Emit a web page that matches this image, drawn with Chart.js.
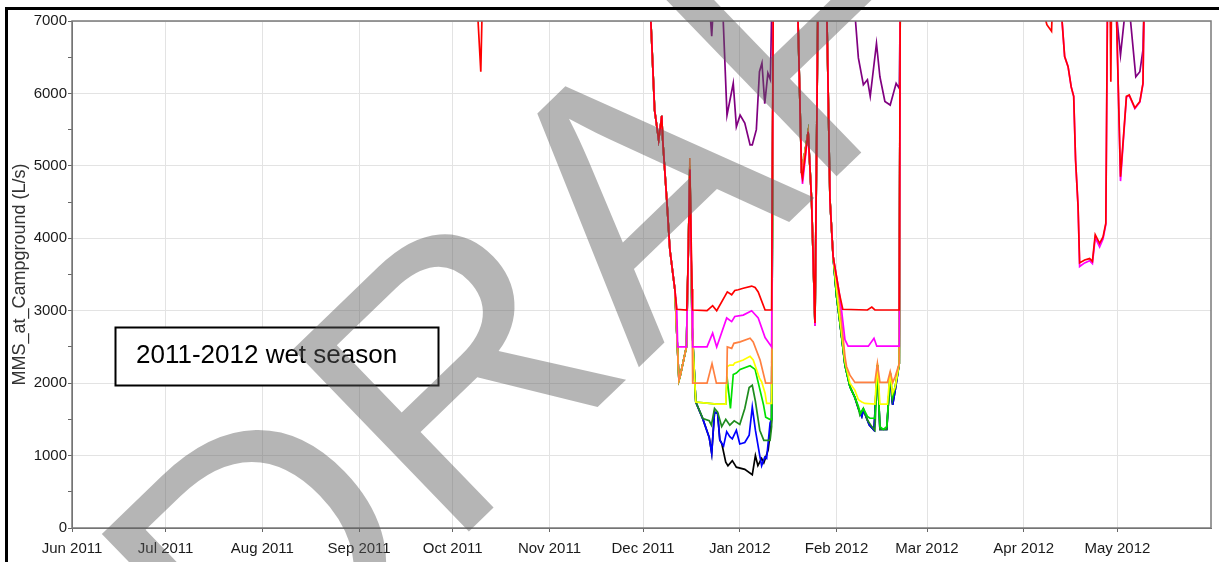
<!DOCTYPE html>
<html lang="en">
<head>
<meta charset="UTF-8">
<title>MMS_at_Campground - 2011-2012 wet season</title>
<script src="https://cdn.jsdelivr.net/npm/chart.js"></script>
<style>
    body {
        margin: 0;
        background: #fff;
        overflow: hidden;
    }
    .chart-box {
        position: relative;
        width: 1219px;
        height: 562px;
    }
</style>
</head>
<body>
<div class="chart-box"><canvas id="flowChart"></canvas></div>
<script>
// x values are days counted from 1 Jun 2011
const monthDays = [0, 30, 61, 92, 122, 153, 183, 214, 245, 274, 305, 335];
const monthLabels = ['Jun 2011', 'Jul 2011', 'Aug 2011', 'Sep 2011', 'Oct 2011', 'Nov 2011',
    'Dec 2011', 'Jan 2012', 'Feb 2012', 'Mar 2012', 'Apr 2012', 'May 2012'];

// flows in L/s (values above 7000 run off the top of the plot)
const redDays = [0, 130.0, 131.0, 131.4, 185.4, 186.7, 188.0, 189.0, 189.3, 190.6, 191.6, 193.2, 193.8,
    197.0, 197.4, 198.0, 198.7, 198.9, 203.5, 205.3, 206.6, 210.0, 211.4, 212.4, 213.5, 215.1, 217.8,
    218.9, 219.9, 222.1, 224.2, 224.7,
    232.6, 233.8, 234.1, 235.9, 237.0, 238.1, 239.0,
    241.9, 242.9, 243.9, 245.0, 245.9, 247.0, 254.9, 256.3, 257.3, 265.1, 265.4,
    311.8, 312.4, 313.9, 314.1, 317.1, 318.1, 319.2, 320.2, 321.0, 321.6, 322.4, 322.9, 324.5, 326.1,
    327.0, 327.9, 329.3, 330.4, 331.3, 331.8, 332.7, 332.9, 333.1, 334.7, 336.0, 337.9, 338.8, 340.6,
    342.2, 343.2, 343.5, 365];
const redFlow = [7500, 7100, 6300, 7100, 7100, 5770, 5360, 5690, 5360, 4530, 3840, 3290, 3020,
    3010, 3600, 4950, 3300, 3010, 3000, 3070, 3000, 3260, 3220, 3280, 3290, 3310, 3340,
    3320, 3260, 3010, 3010, 7100,
    7100, 4900, 4830, 5470, 4530, 2830, 7100,
    7100, 4530, 3750, 3470, 3240, 3020, 3010, 3050, 3010, 3010, 7100,
    7050, 6950, 6860, 7100, 7100, 6510, 6370, 6090, 5960, 5080, 4440, 3660, 3700, 3720,
    3680, 4050, 3930, 4020, 4210, 7100, 7100, 6160, 7100, 7100, 4850, 5960, 5980, 5800,
    5890, 6140, 7100, 7500];

const magentaDays = [185.4, 186.7, 188.0, 189.0, 189.3, 190.6, 191.6, 193.2, 193.8, 194.1, 196.9, 197.4,
    198.0, 198.7, 198.9, 203.5, 205.3, 206.6, 209.8, 211.4, 212.4, 215.1, 217.8, 219.9, 222.1, 224.2, 224.7,
    232.6, 233.8, 234.1, 235.9, 237.0, 238.1, 239.0,
    241.9, 242.9, 243.9, 245.0, 245.9, 246.6, 247.7, 248.7, 255.2, 257.0, 257.9, 265.1, 265.4,
    317.1, 318.1, 319.2, 320.2, 321.0, 321.6, 322.4, 322.9, 324.5, 326.1, 327.0, 327.9, 329.3, 330.4,
    331.3, 331.8, 334.7, 336.0, 337.9, 338.8, 340.6, 342.2, 343.2, 343.5];
const magentaFlow = [7100, 5770, 5360, 5690, 5360, 4530, 3840, 3290, 3020, 2500, 2500, 3600,
    4950, 3000, 2500, 2500, 2690, 2500, 2900, 2850, 2920, 2940, 3000, 2900, 2630, 2500, 7100,
    7100, 4900, 4750, 5470, 4530, 2790, 7100,
    7100, 4530, 3750, 3470, 3240, 3010, 2600, 2510, 2510, 2620, 2510, 2510, 7100,
    7100, 6510, 6370, 6090, 5960, 5080, 4440, 3610, 3660, 3690, 3650, 4010, 3880, 3990,
    4190, 7100, 7100, 4790, 5950, 5970, 5790, 5880, 6130, 7100];

const orangeDays = [185.4, 186.7, 188.0, 189.0, 189.3, 190.6, 191.6, 193.2, 193.8, 194.5, 194.9, 196.9,
    197.4, 198.0, 198.7, 198.9, 203.5, 205.1, 206.5, 209.8, 210.0, 211.4, 212.1, 214.1, 217.3, 218.3,
    220.5, 222.3, 224.2, 224.7,
    232.6, 233.8, 235.9, 237.0, 238.1, 239.0,
    241.9, 242.9, 243.9, 245.0, 245.9, 246.6, 247.7, 248.2, 249.3, 250.9, 257.3, 258.1, 258.9, 261.3,
    262.2, 263.0, 263.8, 265.1, 265.4];
const orangeFlow = [7100, 5770, 5360, 5690, 5360, 4530, 3840, 3290, 2700, 2040, 2100, 2500,
    3600, 5110, 3000, 2000, 2000, 2270, 2000, 2000, 2500, 2480, 2550, 2570, 2620, 2570,
    2320, 2000, 2000, 7100,
    7100, 4900, 5470, 4530, 2810, 7100,
    7100, 4530, 3750, 3440, 3150, 2850, 2370, 2230, 2110, 2010, 2010, 2270, 2010, 2010,
    2160, 2010, 2090, 2270, 7100];

const yellowDays = [185.4, 186.7, 188.0, 189.0, 189.3, 190.6, 191.6, 193.2, 193.8, 194.5, 194.9, 196.9,
    197.4, 198.0, 198.7, 199.9, 206.6, 209.5, 210.0, 210.8, 211.9, 212.4, 215.1, 217.3, 218.3, 220.3,
    221.0, 222.1, 222.6, 224.2, 224.7,
    232.6, 233.8, 235.9, 237.0, 238.1, 239.0,
    241.9, 242.9, 243.9, 245.0, 245.9, 246.6, 247.7, 249.3, 250.9, 252.0, 253.1, 254.1, 257.3, 258.1,
    258.9, 261.3, 262.2, 262.9, 263.8, 265.1, 265.4];
const yellowFlow = [7100, 5770, 5360, 5690, 5360, 4530, 3840, 3290, 2700, 2040, 2100, 2500,
    3600, 5000, 2800, 1740, 1710, 1710, 2230, 2250, 2250, 2280, 2320, 2370, 2320, 2070,
    2020, 1860, 1720, 1720, 7100,
    7100, 4900, 5470, 4530, 2800, 7100,
    7100, 4530, 3750, 3300, 2950, 2700, 2300, 2000, 1900, 1770, 1740, 1720, 1710, 2270,
    1710, 1710, 2160, 1860, 1950, 2270, 7100];

const limeDays = [185.4, 186.7, 188.0, 189.0, 189.3, 190.6, 191.6, 193.2, 193.8, 194.5, 194.9, 196.9,
    197.4, 198.0, 198.7, 199.9, 206.6, 209.5, 209.9, 211.0, 211.9, 212.9, 214.1, 217.3, 218.9, 220.5,
    221.6, 222.3, 223.6, 224.2, 224.7,
    232.6, 233.8, 235.9, 237.0, 238.1, 239.0,
    241.9, 242.9, 243.9, 245.0, 245.9, 246.6, 247.7, 249.3, 250.9, 252.0, 252.6, 253.6, 254.9, 255.7,
    257.3, 258.1, 258.9, 260.0, 261.1, 262.2, 262.9, 263.8, 265.1, 265.4];
const limeFlow = [7100, 5770, 5360, 5690, 5360, 4530, 3840, 3290, 2700, 2040, 2100, 2500,
    3600, 5000, 2800, 1740, 1710, 1710, 2090, 1650, 2120, 2140, 2190, 2240, 2190, 1900,
    1700, 1530, 1500, 1500, 7100,
    7100, 4900, 5470, 4530, 2800, 7100,
    7100, 4530, 3750, 3200, 2900, 2650, 2250, 1950, 1800, 1680, 1580, 1650, 1540, 1515,
    1515, 2250, 1400, 1360, 1400, 2140, 1810, 1950, 2270, 7100];

const greenDays = [185.4, 186.7, 188.0, 189.0, 189.3, 190.6, 191.6, 193.2, 193.8, 194.5, 194.9, 196.9,
    197.4, 198.0, 198.7, 199.9, 202.2, 204.2, 204.9, 205.9, 206.9, 208.2, 209.5, 210.8, 212.2, 214.0,
    215.6, 217.0, 218.0, 219.0, 220.4, 221.7, 223.7, 224.2, 224.7,
    232.6, 233.8, 235.9, 237.0, 238.1, 239.0,
    241.9, 242.9, 243.9, 245.0, 245.9, 246.6, 247.7, 249.3, 250.9, 252.0, 252.5, 253.6, 254.9, 256.3,
    257.3, 258.1, 258.9, 261.1, 262.2, 262.9, 263.8, 265.1, 265.4];
const greenFlow = [7100, 5770, 5360, 5690, 5360, 4530, 3840, 3290, 2700, 2040, 2100, 2500,
    3600, 5000, 2800, 1740, 1510, 1480, 1420, 1650, 1600, 1400, 1500, 1420, 1480, 1430,
    1650, 1940, 1970, 1750, 1350, 1210, 1210, 1400, 7100,
    7100, 4900, 5470, 4530, 2800, 7100,
    7100, 4530, 3750, 3200, 2900, 2650, 2250, 1950, 1800, 1650, 1560, 1650, 1490, 1400,
    1350, 2250, 1360, 1360, 2140, 1770, 1950, 2270, 7100];

const blueDays = [185.4, 186.7, 188.0, 189.0, 189.3, 190.6, 191.6, 193.2, 193.8, 194.5, 194.9, 196.9,
    197.4, 198.0, 198.7, 199.9, 202.2, 204.2, 205.0, 205.9, 206.9, 207.6, 208.2, 208.8, 209.8, 210.8,
    211.6, 212.9, 214.0, 215.6, 217.0, 218.0, 219.0, 220.4, 221.0, 222.0, 222.6, 223.7, 224.2, 224.7,
    232.6, 233.8, 235.9, 237.0, 238.1, 239.0,
    241.9, 242.9, 243.9, 245.0, 245.9, 246.6, 247.7, 249.3, 250.9, 252.0, 253.1, 253.6, 255.5, 257.0,
    258.1, 258.9, 261.1, 262.2, 262.8, 263.0, 263.8, 265.1, 265.4];
const blueFlow = [7100, 5770, 5360, 5690, 5360, 4530, 3840, 3290, 2700, 2040, 2100, 2500,
    3600, 5000, 2800, 1740, 1500, 1250, 1030, 1600, 1580, 1215, 1170, 1130, 1330, 1260,
    1230, 1350, 1160, 1180, 1280, 1670, 1350, 1000, 860, 980, 960, 1450, 1500, 7100,
    7100, 4900, 5470, 4530, 2800, 7100,
    7100, 4530, 3750, 3200, 2900, 2650, 2250, 1950, 1800, 1650, 1540, 1630, 1420, 1350,
    2250, 1360, 1360, 2140, 1750, 1700, 1900, 2270, 7100];

const blackDays = [185.4, 186.7, 188.0, 189.0, 189.3, 190.6, 191.6, 193.2, 193.8, 194.5, 194.9, 196.9,
    197.4, 198.0, 198.7, 199.9, 202.2, 204.2, 205.0, 205.9, 206.9, 207.6, 208.2, 209.5, 210.2, 211.6,
    212.9, 215.6, 218.0, 219.0, 219.8, 221.0, 221.7, 222.1, 223.1, 224.2, 224.7,
    232.6, 233.8, 235.9, 237.0, 238.1, 239.0,
    241.9, 242.9, 243.9, 245.0, 245.9, 246.6, 247.7, 249.3, 250.9, 252.0, 253.1, 253.6, 255.5, 257.0,
    258.1, 258.9, 261.1, 262.2, 262.8, 263.0, 263.8, 265.1, 265.4];
const blackFlow = [7100, 5770, 5360, 5690, 5360, 4530, 3840, 3290, 2700, 2040, 2100, 2500,
    3600, 5000, 2800, 1740, 1500, 1250, 1030, 1600, 1580, 1215, 1170, 910, 860, 930,
    840, 810, 735, 1000, 860, 960, 900, 950, 1080, 1490, 7100,
    7100, 4900, 5470, 4530, 2800, 7100,
    7100, 4530, 3750, 3200, 2900, 2650, 2250, 1950, 1800, 1650, 1540, 1630, 1420, 1350,
    2250, 1360, 1360, 2140, 1750, 1700, 1900, 2270, 7100];

const purpleDays = [0, 204.5, 205.0, 205.4, 208.6, 209.9, 211.9, 212.9, 214.1, 215.6, 217.3, 218.0,
    219.3, 220.3, 221.1, 222.0, 223.0, 223.8, 224.2,
    250.9, 252.0, 253.6, 254.9, 255.8, 257.8, 258.9, 260.5, 262.2, 264.1, 265.1, 265.4,
    334.7, 336.0, 337.4, 339.0, 340.9, 342.2, 343.2, 343.5, 365];
const purpleFlow = [7500, 7100, 6790, 7100, 7100, 5700, 6140, 5540, 5700, 5590, 5290, 5290,
    5500, 6300, 6420, 5860, 6280, 6190, 7100,
    7100, 6490, 6120, 6190, 5960, 6690, 6230, 5890, 5840, 6140, 6070, 7100,
    7100, 6530, 7100, 7100, 6230, 6300, 6600, 7100, 7500];

const yTitle = 'MMS_at_Campground (L/s)';
const noteText = '2011-2012 wet season';
const stampText = 'DRAFT';

const pts = (days, flow) => days.map((d, i) => ({ x: d, y: flow[i] }));

function line(days, flow, color) {
    return {
        data: pts(days, flow),
        borderColor: color,
        borderWidth: 1.7,
        pointRadius: 0,
        tension: 0,
        fill: false
    };
}

const tickFont = { family: '"Liberation Sans", Arial, sans-serif', size: 15 };

// white page, box note, grey draft stamp and the black frame
const decorations = {
    id: 'decorations',
    beforeDraw(chart) {
        const ctx = chart.ctx;
        ctx.save();
        ctx.fillStyle = '#fff';
        ctx.fillRect(0, 0, chart.width, chart.height);
        ctx.restore();
    },
    afterDatasetsDraw(chart) {
        const ctx = chart.ctx;
        const a = chart.chartArea;
        ctx.save();
        ctx.strokeStyle = '#7a7a7a';
        ctx.lineWidth = 1.5;
        ctx.strokeRect(a.left, a.top, a.right - a.left, a.bottom - a.top);
        ctx.restore();
    },
    afterDraw(chart) {
        const ctx = chart.ctx;
        ctx.save();
        // note box
        ctx.fillStyle = '#fff';
        ctx.fillRect(115, 327, 324, 59);
        ctx.strokeStyle = '#000';
        ctx.lineWidth = 2;
        ctx.strokeRect(115.5, 327.5, 323, 58);
        ctx.fillStyle = '#000';
        ctx.font = '26px "Liberation Sans", Arial, sans-serif';
        ctx.textBaseline = 'alphabetic';
        ctx.fillText(noteText, 136, 363);

        // draft stamp
        ctx.save();
        ctx.translate(256, 737);
        ctx.rotate(-44 * Math.PI / 180);
        ctx.font = '368px "Liberation Sans", Arial, sans-serif';
        ctx.fillStyle = 'rgba(90, 90, 90, 0.45)';
        ctx.fillText(stampText, 0, 0);
        ctx.restore();

        // frame
        ctx.fillStyle = '#000';
        ctx.fillRect(5, 7, chart.width - 5, 3);
        ctx.fillRect(5, 7, 3, chart.height - 7);
        ctx.restore();
    }
};

new Chart(document.getElementById('flowChart'), {
    type: 'line',
    data: {
        datasets: [
            line(redDays, redFlow, '#ff0000'),
            line(magentaDays, magentaFlow, '#ff00ff'),
            line(orangeDays, orangeFlow, '#ff8040'),
            line(yellowDays, yellowFlow, '#ffff00'),
            line(limeDays, limeFlow, '#00e000'),
            line(greenDays, greenFlow, '#1e8c1e'),
            line(blueDays, blueFlow, '#0000ff'),
            line(blackDays, blackFlow, '#000000'),
            line(purpleDays, purpleFlow, '#800080')
        ]
    },
    options: {
        responsive: true,
        maintainAspectRatio: false,
        animation: false,
        layout: { padding: { top: 21, right: 8, left: 0, bottom: 0 } },
        plugins: {
            legend: { display: false },
            tooltip: { enabled: false }
        },
        scales: {
            x: {
                type: 'linear',
                min: 0,
                max: 365,
                afterBuildTicks: axis => {
                    axis.ticks = monthDays.map(v => ({ value: v }));
                },
                afterFit: axis => { axis.height = 34; },
                ticks: {
                    autoSkip: false,
                    maxRotation: 0,
                    padding: 8,
                    color: '#1a1a1a',
                    font: tickFont,
                    callback: (value, index) => monthLabels[index]
                },
                grid: { color: '#e3e3e3', tickColor: '#666', tickLength: 4 },
                border: { color: '#666', width: 1 }
            },
            y: {
                min: 0,
                max: 7000,
                afterFit: axis => { axis.width = 72; },
                ticks: {
                    stepSize: 500,
                    padding: 1,
                    color: '#1a1a1a',
                    font: tickFont,
                    callback: v => (v % 1000 === 0 ? String(v) : '')
                },
                grid: {
                    color: c => (c.tick && c.tick.value % 1000 === 0 ? '#e3e3e3' : 'rgba(0,0,0,0)'),
                    tickColor: '#666',
                    tickLength: 4
                },
                border: { color: '#666', width: 1 },
                title: {
                    display: true,
                    text: yTitle,
                    color: '#333',
                    padding: { top: 9, bottom: 0 },
                    font: { family: '"Liberation Sans", Arial, sans-serif', size: 18 }
                }
            }
        }
    },
    plugins: [decorations]
});
</script>
</body>
</html>
